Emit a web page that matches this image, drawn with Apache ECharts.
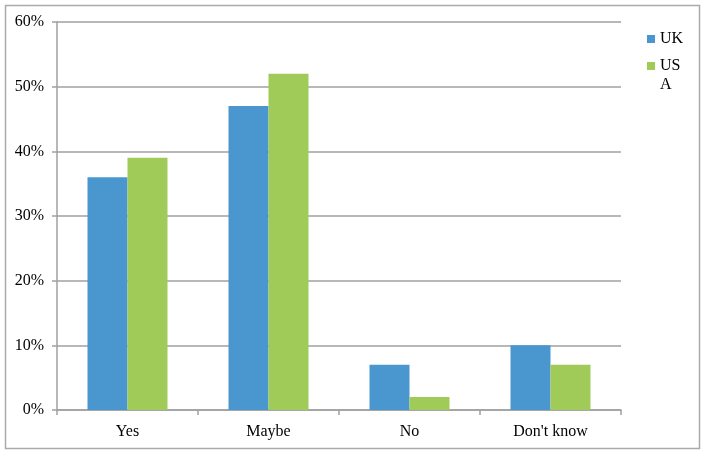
<!DOCTYPE html>
<html>
<head>
<meta charset="utf-8">
<script src="https://cdn.jsdelivr.net/npm/echarts@6/dist/echarts.min.js"></script>
<style>
  html, body { margin: 0; padding: 0; background: #fff; }
  #chart { width: 706px; height: 454px; }
</style>
</head>
<body>
<div id="chart"></div>
<script>
var categories = ['Yes', 'Maybe', 'No', "Don't know"];
var ukValues = [36, 47, 7, 10];
var usaValues = [39, 52, 2, 7];
var yTicks = [0, 10, 20, 30, 40, 50, 60];

var chart = echarts.init(document.getElementById('chart'));
var font = 'Liberation Serif';
var axisGray = '#a0a0a0';

var option = {
  backgroundColor: '#ffffff',
  color: ['#4a96cf', '#a0cb59'],
  textStyle: { fontFamily: font },
  graphic: [{
    type: 'rect',
    shape: { x: 5.5, y: 5.5, width: 694, height: 443 },
    style: { fill: 'none', stroke: '#aaaaaa', lineWidth: 1.5 },
    silent: true
  }],
  legend: [{
    left: 647,
    top: 29.5,
    padding: 0,
    orient: 'vertical',
    itemWidth: 8,
    itemHeight: 8,
    itemGap: 4,
    selectedMode: false,
    icon: 'rect',
    textStyle: { fontFamily: font, fontSize: 16, color: '#000', lineHeight: 19 },
    data: [{ name: 'UK' }]
  }, {
    left: 647,
    top: 37.5,
    padding: 0,
    orient: 'vertical',
    itemWidth: 8,
    itemHeight: 8,
    selectedMode: false,
    icon: 'rect',
    // blank first line keeps "US" level with the icon, "A" wraps below
    formatter: function (name) {
      return '\nUS\nA';
    },
    textStyle: { fontFamily: font, fontSize: 16, color: '#000', lineHeight: 19 },
    data: [{ name: 'USA' }]
  }],
  grid: {
    left: 57,
    right: 85,
    top: 22,
    bottom: 44,
    containLabel: false
  },
  xAxis: {
    type: 'category',
    data: categories,
    axisLine: { lineStyle: { color: axisGray, width: 1.5 } },
    axisTick: { show: true, length: 5, alignWithLabel: false, lineStyle: { color: axisGray, width: 1.5 } },
    axisLabel: { color: '#000', fontFamily: font, fontSize: 16, margin: 14 }
  },
  yAxis: {
    type: 'value',
    min: yTicks[0],
    max: yTicks[yTicks.length - 1],
    interval: 10,
    axisLine: { show: true, lineStyle: { color: axisGray, width: 1.5 } },
    axisTick: { show: true, length: 5, lineStyle: { color: axisGray, width: 1.5 } },
    axisLabel: {
      color: '#000', fontFamily: font, fontSize: 16, margin: 13,
      formatter: function (v) { return v + '%'; }
    },
    splitLine: { show: true, lineStyle: { color: axisGray, width: 1.5 } }
  },
  series: [{
    name: 'UK',
    type: 'bar',
    data: ukValues,
    barWidth: 40,
    barGap: '0%'
  }, {
    name: 'USA',
    type: 'bar',
    data: usaValues,
    barWidth: 40,
    barGap: '0%'
  }]
};

chart.setOption(option);
</script>
</body>
</html>
